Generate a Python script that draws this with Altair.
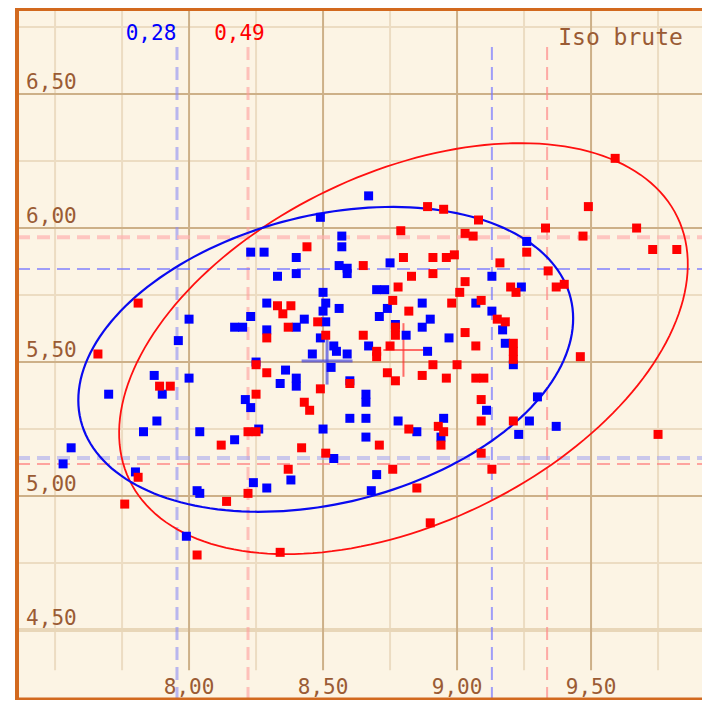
import altair as alt
import pandas as pd
import numpy as np

# ---------------- data ----------------
blue_x = [8.67, 8.49, 8.57, 8.57, 8.23, 8.28, 8.40, 8.56, 8.59, 8.59, 8.33, 8.40, 8.75, 9.26, 9.13,
          9.24, 8.70, 8.73, 8.50, 8.29, 8.51, 8.87, 9.07, 8.56, 8.74, 9.13, 8.50, 8.71, 8.23, 8.00,
          8.43, 8.90, 8.51, 8.40, 8.87, 8.17, 8.20, 8.29, 8.77, 9.17, 7.96, 8.49, 8.81, 8.97, 8.54,
          9.18, 8.67, 8.55, 8.46, 8.59, 8.89, 8.25, 9.21, 8.53, 8.36, 7.87, 8.00, 8.40, 8.40, 8.34,
          8.60, 8.66, 8.66, 8.21, 8.23, 7.90, 7.70, 9.30, 9.11, 8.60, 8.66, 8.78, 8.95, 9.27, 9.37,
          7.88, 7.83, 8.04, 8.26, 8.50, 8.85, 8.94, 8.66, 9.23, 8.17, 7.56, 7.53, 8.54, 7.80, 8.70,
          8.38, 8.24, 8.29, 8.68, 8.03, 8.04, 7.99]
blue_y = [6.12, 6.04, 5.97, 5.93, 5.91, 5.91, 5.89, 5.86, 5.85, 5.83, 5.82, 5.83, 5.87, 5.95, 5.82,
          5.78, 5.77, 5.77, 5.76, 5.72, 5.72, 5.72, 5.72, 5.70, 5.70, 5.69, 5.69, 5.67, 5.67, 5.66,
          5.66, 5.66, 5.65, 5.63, 5.63, 5.63, 5.63, 5.62, 5.64, 5.62, 5.58, 5.59, 5.60, 5.59, 5.56,
          5.57, 5.56, 5.54, 5.53, 5.53, 5.54, 5.50, 5.49, 5.48, 5.47, 5.45, 5.44, 5.44, 5.41, 5.42,
          5.43, 5.38, 5.35, 5.36, 5.33, 5.38, 5.38, 5.37, 5.32, 5.29, 5.29, 5.28, 5.29, 5.28, 5.26,
          5.28, 5.24, 5.24, 5.25, 5.25, 5.24, 5.22, 5.22, 5.23, 5.21, 5.18, 5.12, 5.14, 5.09, 5.08,
          5.06, 5.05, 5.03, 5.02, 5.02, 5.01, 4.85]

red_x = [9.59, 9.49, 8.89, 8.95, 9.08, 8.79, 9.03, 9.06, 9.33, 9.47, 9.67, 9.73, 9.82, 9.26, 8.44,
         8.80, 8.91, 8.96, 8.99, 8.65, 9.16, 9.34, 8.83, 8.91, 9.03, 9.01, 9.20, 9.22, 9.37, 9.40,
         8.78, 7.81, 8.33, 8.35, 8.38, 8.76, 8.82, 8.98, 9.09, 9.15, 9.18, 8.48, 8.37, 8.51, 8.65,
         8.29, 8.77, 8.77, 8.75, 7.66, 8.70, 8.70, 9.03, 9.07, 9.21, 9.21, 9.21, 9.46, 8.25, 8.29,
         8.91, 9.00, 8.74, 8.87, 8.96, 9.07, 9.10, 8.60, 8.77, 7.93, 7.89, 8.49, 8.25, 8.43, 8.45,
         9.09, 9.09, 9.21, 8.82, 8.93, 8.95, 9.75, 8.22, 8.25, 8.12, 8.42, 8.94, 8.71, 8.51, 9.09,
         8.37, 9.13, 8.76, 7.81, 8.85, 8.22, 8.14, 7.76, 8.90, 8.03, 8.34]
red_y = [6.26, 6.08, 6.08, 6.07, 6.03, 5.99, 5.98, 5.97, 6.00, 5.97, 6.00, 5.92, 5.92, 5.91, 5.93,
         5.89, 5.89, 5.89, 5.90, 5.86, 5.87, 5.84, 5.82, 5.83, 5.80, 5.76, 5.78, 5.76, 5.78, 5.79,
         5.78, 5.72, 5.71, 5.68, 5.71, 5.73, 5.69, 5.72, 5.73, 5.66, 5.65, 5.65, 5.63, 5.60, 5.60,
         5.59, 5.63, 5.60, 5.56, 5.53, 5.54, 5.52, 5.61, 5.56, 5.57, 5.54, 5.51, 5.52, 5.49, 5.46,
         5.49, 5.49, 5.46, 5.45, 5.44, 5.44, 5.44, 5.42, 5.43, 5.41, 5.41, 5.40, 5.38, 5.35, 5.32,
         5.36, 5.28, 5.28, 5.25, 5.26, 5.24, 5.23, 5.24, 5.24, 5.19, 5.18, 5.19, 5.19, 5.16, 5.16,
         5.10, 5.10, 5.10, 5.07, 5.03, 5.01, 4.98, 4.97, 4.90, 4.78, 4.79]

# ellipse parameters: centre, semi-axes, rotation (deg)
blue_ell = dict(cx=8.51, cy=5.51, a=0.942, b=0.537, ang=14.0)
red_ell = dict(cx=8.80, cy=5.55, a=1.134, b=0.654, ang=25.6)

# centre crosses: centre, half-lengths
blue_cross = dict(cx=8.515, cy=5.504, hx=0.095, hy=0.088)
red_cross = dict(cx=8.800, cy=5.545, hx=0.075, hy=0.100)

# dashed reference lines
blue_vlines = [7.955, 9.13]
red_vlines = [8.22, 9.336]
blue_hlines = [5.847, 5.142]
red_hlines = [5.966, 5.12]

# corner labels
blue_label = "0,28"
red_label = "0,49"
title_label = "Iso brute"

# grid and tick labels
x_major = [8.0, 8.5, 9.0, 9.5]
x_minor = [7.5, 7.75, 8.25, 8.75, 9.25, 9.75]
y_major = [5.0, 5.5, 6.0, 6.5]
y_minor = [4.75, 5.25, 5.75, 6.25, 6.75]
y_light = [4.5]
x_tick_labels = ["8,00", "8,50", "9,00", "9,50"]
y_ticks = [6.5, 6.0, 5.5, 5.0, 4.5]
y_tick_labels = ["6,50", "6,00", "5,50", "5,00", "4,50"]

# ---------------- layout ----------------
W, H = 685, 692
x_dom = [7.358, 9.914]
y_dom = [4.239, 6.821]
xs = alt.Scale(domain=x_dom, nice=False, zero=False)
ys = alt.Scale(domain=y_dom, nice=False, zero=False)

BG = "#fcf4e4"
GRID_MAJOR = "#cdb088"
GRID_MINOR = "#ecdcc2"
BROWN = "#9a5b34"
FONT = "DejaVu Sans Mono"

X = lambda f: alt.X(f, scale=xs, axis=None)
Y = lambda f: alt.Y(f, scale=ys, axis=None)

layers = []

# vertical grid
def vgrid(vals, color, width):
    df = pd.DataFrame({"x": vals, "y1": [4.35] * len(vals), "y2": [y_dom[1]] * len(vals)})
    return alt.Chart(df).mark_rule(color=color, strokeWidth=width).encode(
        x=X("x:Q"), y=Y("y1:Q"), y2="y2:Q")

def hgrid(vals, color, width):
    df = pd.DataFrame({"y": vals, "x1": [x_dom[0]] * len(vals), "x2": [x_dom[1]] * len(vals)})
    return alt.Chart(df).mark_rule(color=color, strokeWidth=width).encode(
        y=Y("y:Q"), x=X("x1:Q"), x2="x2:Q")

layers += [vgrid(x_minor, GRID_MINOR, 2), hgrid(y_minor, GRID_MINOR, 2),
           hgrid(y_light, "#e8d6b8", 4),
           vgrid(x_major, GRID_MAJOR, 2), hgrid(y_major, GRID_MAJOR, 2)]

# dashed lines
def vdash(val, color, width, op):
    df = pd.DataFrame({"x": [val], "y1": [y_dom[0]], "y2": [6.70]})
    return alt.Chart(df).mark_rule(color=color, strokeWidth=width, opacity=op,
                                   strokeDash=[13, 7]).encode(x=X("x:Q"), y=Y("y1:Q"), y2="y2:Q")

def hdash(val, color, width, op):
    df = pd.DataFrame({"y": [val], "x1": [x_dom[0]], "x2": [x_dom[1]]})
    return alt.Chart(df).mark_rule(color=color, strokeWidth=width, opacity=op,
                                   strokeDash=[13, 7]).encode(y=Y("y:Q"), x=X("x1:Q"), x2="x2:Q")

layers += [
    vdash(blue_vlines[0], "#8c8cf5", 3, 0.6), vdash(blue_vlines[1], "#7878ff", 2, 0.7),
    vdash(red_vlines[0], "#ff9c9c", 3, 0.6), vdash(red_vlines[1], "#ff8a8a", 2, 0.7),
    hdash(blue_hlines[0], "#7878ff", 2, 0.7), hdash(blue_hlines[1], "#a8a8f0", 4, 0.6),
    hdash(red_hlines[0], "#ffb0b0", 4, 0.7), hdash(red_hlines[1], "#ff8080", 2, 0.7),
]

# ellipses
def ellipse(p, color, width):
    t = np.linspace(0, 2 * np.pi, 181)
    th = np.deg2rad(p["ang"])
    ex = p["cx"] + p["a"] * np.cos(t) * np.cos(th) - p["b"] * np.sin(t) * np.sin(th)
    ey = p["cy"] + p["a"] * np.cos(t) * np.sin(th) + p["b"] * np.sin(t) * np.cos(th)
    df = pd.DataFrame({"x": ex, "y": ey, "i": np.arange(len(t))})
    return alt.Chart(df).mark_line(color=color, strokeWidth=width).encode(
        x=X("x:Q"), y=Y("y:Q"), order="i:Q")

layers += [ellipse(red_ell, "#ff1010", 1.8), ellipse(blue_ell, "#0a0af0", 2.2)]

# crosses
def cross(p, color, width, op):
    dfh = pd.DataFrame({"x1": [p["cx"] - p["hx"]], "x2": [p["cx"] + p["hx"]], "y": [p["cy"]]})
    dfv = pd.DataFrame({"x": [p["cx"]], "y1": [p["cy"] - p["hy"]], "y2": [p["cy"] + p["hy"]]})
    h = alt.Chart(dfh).mark_rule(color=color, strokeWidth=width, opacity=op).encode(
        x=X("x1:Q"), x2="x2:Q", y=Y("y:Q"))
    v = alt.Chart(dfv).mark_rule(color=color, strokeWidth=width, opacity=op).encode(
        x=X("x:Q"), y=Y("y1:Q"), y2="y2:Q")
    return [h, v]

layers += cross(blue_cross, "#4848e0", 3, 0.7)
layers += cross(red_cross, "#ff3030", 2, 0.7)

# points
bdf = pd.DataFrame({"x": blue_x, "y": blue_y})
rdf = pd.DataFrame({"x": red_x, "y": red_y})
layers.append(alt.Chart(bdf).mark_square(size=81, color="#0000ff", opacity=1).encode(
    x=X("x:Q"), y=Y("y:Q")))
layers.append(alt.Chart(rdf).mark_square(size=81, color="#ff0000", opacity=1).encode(
    x=X("x:Q"), y=Y("y:Q")))

# tick labels
ydf = pd.DataFrame({"y": y_ticks, "t": y_tick_labels, "x": [7.392] * len(y_ticks)})
layers.append(alt.Chart(ydf).mark_text(font=FONT, fontSize=21, color=BROWN, align="left",
                                       baseline="alphabetic", dy=-5).encode(
    x=X("x:Q"), y=Y("y:Q"), text="t:N"))
xdf = pd.DataFrame({"x": x_major, "t": x_tick_labels, "y": [4.262] * len(x_major)})
layers.append(alt.Chart(xdf).mark_text(font=FONT, fontSize=21, color=BROWN, align="center",
                                       baseline="alphabetic").encode(
    x=X("x:Q"), y=Y("y:Q"), text="t:N"))

# corner labels
cdf = pd.DataFrame({"x": [7.858, 8.188], "y": [6.70, 6.70], "t": [blue_label, red_label],
                    "c": ["b", "r"]})
layers.append(alt.Chart(cdf).mark_text(font=FONT, fontSize=21, align="center",
                                       baseline="alphabetic").encode(
    x=X("x:Q"), y=Y("y:Q"), text="t:N",
    color=alt.Color("c:N", scale=alt.Scale(domain=["b", "r"], range=["#0000ff", "#ff0000"]),
                    legend=None)))
tdf = pd.DataFrame({"x": [9.61], "y": [6.683], "t": [title_label]})
layers.append(alt.Chart(tdf).mark_text(font=FONT, fontSize=23, color=BROWN, align="center",
                                       baseline="alphabetic").encode(
    x=X("x:Q"), y=Y("y:Q"), text="t:N"))

# frame (left, top, bottom)
BORDER = "#d2691e"
frame_df = pd.DataFrame({"k": [0]})
layers.append(alt.Chart(frame_df).mark_rule(color=BORDER, strokeWidth=4).encode(
    x=alt.value(0), y=alt.value(0), y2=alt.value(H)))
layers.append(alt.Chart(frame_df).mark_rule(color=BORDER, strokeWidth=4).encode(
    x=alt.value(0), x2=alt.value(W), y=alt.value(1)))
layers.append(alt.Chart(frame_df).mark_rule(color=BORDER, strokeWidth=3).encode(
    x=alt.value(0), x2=alt.value(W), y=alt.value(H - 1)))

chart = alt.layer(*layers).properties(
    width=W, height=H,
    padding={"left": 9, "top": 0, "right": 0, "bottom": 0},
    autosize=alt.AutoSizeParams(type="none"),
    background="white",
).configure_view(fill=BG, stroke=None)

chart.save("out.html", embed_options={"renderer": "svg", "actions": False})
